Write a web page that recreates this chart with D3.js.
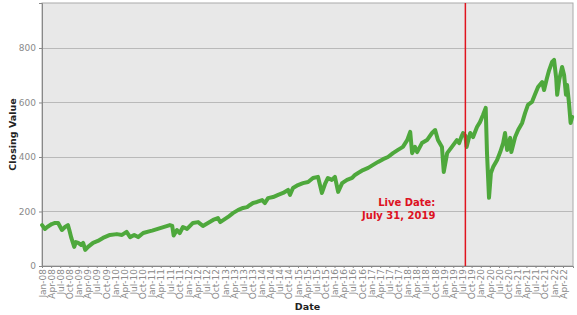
<!DOCTYPE html>
<html>
<head>
<meta charset="utf-8">
<script src="https://cdn.jsdelivr.net/npm/d3@7"></script>
<style>
  html, body { margin: 0; padding: 0; background: #ffffff; }
  svg { display: block; }
</style>
</head>
<body>
<svg id="chart" width="577" height="315"></svg>
<script>
// ---------- data ----------
const dates = [
  "2008-01-02","2008-01-31","2008-02-22","2008-04-08","2008-05-10","2008-06-10","2008-07-18","2008-08-18",
  "2008-09-16","2008-09-30","2008-10-20","2008-11-18","2008-12-05","2008-12-28","2009-01-25","2009-02-15",
  "2009-03-08","2009-04-05","2009-05-25","2009-07-12","2009-09-01","2009-11-10","2010-01-18","2010-03-10",
  "2010-04-25","2010-05-30","2010-07-10","2010-08-18","2010-10-08","2010-12-15","2011-01-05","2011-07-01",
  "2011-07-25","2011-08-08","2011-09-10","2011-10-08","2011-11-09","2011-12-20","2012-02-17","2012-04-08",
  "2012-05-26","2012-07-16","2012-09-05","2012-10-23","2012-11-15","2013-02-02","2013-03-22","2013-05-11",
  "2013-07-01","2013-08-11","2013-09-09","2013-10-09","2013-11-17","2014-01-08","2014-02-05","2014-03-08",
  "2014-04-27","2014-06-17","2014-08-05","2014-09-24","2014-10-13","2014-11-12","2015-01-01","2015-02-20",
  "2015-04-12","2015-05-31","2015-07-20","2015-08-28","2015-09-27","2015-10-27","2015-12-05","2016-01-05",
  "2016-02-06","2016-03-17","2016-05-05","2016-06-25","2016-07-23","2016-08-23","2016-10-12","2016-12-02",
  "2017-01-20","2017-03-11","2017-04-30","2017-06-18","2017-08-07","2017-09-26","2017-11-14","2017-12-27",
  "2018-01-26","2018-02-14","2018-03-15","2018-04-05","2018-05-23","2018-07-13","2018-09-01","2018-10-02",
  "2018-10-30","2018-12-09","2018-12-27","2019-01-30","2019-03-18","2019-05-07","2019-05-30","2019-06-20",
  "2019-07-08","2019-07-31","2019-08-12","2019-09-17","2019-10-16","2019-11-24","2019-12-24","2020-01-23",
  "2020-02-19","2020-03-03","2020-03-23","2020-04-11","2020-05-03","2020-06-12","2020-07-13","2020-08-11",
  "2020-08-30","2020-09-20","2020-10-20","2020-11-01","2020-12-09","2021-01-08","2021-02-17","2021-03-18",
  "2021-04-16","2021-05-26","2021-06-24","2021-07-26","2021-09-05","2021-09-24","2021-10-23","2021-11-14",
  "2021-12-13","2022-01-02","2022-01-23","2022-02-02","2022-02-22","2022-03-23","2022-04-12","2022-05-01",
  "2022-05-12","2022-05-31","2022-06-16","2022-07-01"
];
const closingValues = [
  150,136,143,154,158,158,132,143,
  150,132,103,70,88,85,77,85,
  59,70,85,92,103,114,117,114,
  125,106,114,106,121,128,130,150,
  147,112,132,121,143,136,158,161,
  147,158,169,176,161,180,194,205,
  213,216,224,231,235,242,231,249,
  253,261,268,279,261,286,297,304,
  308,323,327,268,300,323,316,327,
  272,304,316,323,334,341,352,360,
  371,382,392,400,414,426,437,462,
  492,414,437,418,451,462,488,499,
  462,437,345,414,437,462,451,473,
  488,478,437,488,473,510,528,554,
  580,414,250,341,363,389,418,451,
  488,426,470,418,473,499,525,561,
  591,602,628,657,675,646,690,719,
  749,756,690,628,683,730,701,628,
  664,598,525,547
];
const liveDate = "2019-07-31";
const liveLabel = ["Live Date:", "July 31, 2019"];
const yTicks = [0, 200, 400, 600, 800];
const xDomain = ["2008-01-01", "2022-07-10"];
const yDomain = [0, 965];
const xTickStart = "2008-01-01", xTickEnd = "2022-04-01", xTickMonths = 3;
const xTitle = "Date", yTitle = "Closing Value";

// ---------- layout ----------
const parse = d3.timeParse("%Y-%m-%d");
const data = dates.map((d, i) => ({ date: parse(d), value: closingValues[i] }));
const margin = { left: 42, right: 4, top: 3, bottom: 49 };
const W = 577, H = 315;
const svg = d3.select("#chart");

const x = d3.scaleTime().domain(xDomain.map(parse)).range([margin.left, W - margin.right]);
const y = d3.scaleLinear().domain(yDomain).range([H - margin.bottom, margin.top]);

const font = "DejaVu Sans, Verdana, sans-serif";

// plot background
svg.append("rect")
  .attr("x", margin.left).attr("y", margin.top)
  .attr("width", W - margin.right - margin.left)
  .attr("height", H - margin.bottom - margin.top)
  .attr("fill", "#e8e8e8").attr("stroke", "#aaaaaa").attr("stroke-width", 1);

// grid lines
svg.append("g").selectAll("line").data(yTicks.filter(t => t > 0)).join("line")
  .attr("x1", margin.left).attr("x2", W - margin.right)
  .attr("y1", d => Math.round(y(d)) + 0.5).attr("y2", d => Math.round(y(d)) + 0.5)
  .attr("stroke", "#b9b9b9").attr("stroke-width", 1);

// y axis
const yAxis = svg.append("g")
  .attr("transform", `translate(${margin.left},0)`)
  .call(d3.axisLeft(y).tickValues(yTicks).tickSize(3).tickPadding(3).tickFormat(d3.format("d")));
yAxis.select(".domain").attr("stroke", "#888888");
yAxis.selectAll(".tick line").attr("stroke", "#888888");
yAxis.selectAll("text").attr("fill", "#8a8a8a").attr("font-family", font).attr("font-size", 9);

// x axis
const xTicks = d3.timeMonth.every(xTickMonths).range(parse(xTickStart), d3.timeDay.offset(parse(xTickEnd), 1));
const xAxis = svg.append("g")
  .attr("transform", `translate(0,${H - margin.bottom})`)
  .call(d3.axisBottom(x).tickValues(xTicks).tickSize(2).tickFormat(d3.timeFormat("%b-%y")));
xAxis.select(".domain").attr("stroke", "#888888");
xAxis.selectAll(".tick line").attr("stroke", "#888888");
xAxis.selectAll("text")
  .attr("fill", "#8a8a8a").attr("font-family", font).attr("font-size", 9)
  .attr("transform", "rotate(-90)")
  .attr("text-anchor", "end")
  .attr("x", -3).attr("y", 0).attr("dy", "0.35em");

// series line
const line = d3.line().x(d => x(d.date)).y(d => y(d.value));
svg.append("path").datum(data)
  .attr("d", line)
  .attr("fill", "none").attr("stroke", "#4ea83c")
  .attr("stroke-width", 4).attr("stroke-linejoin", "round").attr("stroke-linecap", "round");

// short brownish highlight around live date
const live = parse(liveDate);
const near = data.filter(d => d.date >= d3.timeDay.offset(live, -25) && d.date <= d3.timeDay.offset(live, 14));
svg.append("path").datum(near)
  .attr("d", line)
  .attr("fill", "none").attr("stroke", "#9a6a3a")
  .attr("stroke-width", 2.5).attr("stroke-linejoin", "round").attr("opacity", 0.8);

// live date marker
svg.append("line")
  .attr("x1", x(live)).attr("x2", x(live))
  .attr("y1", margin.top).attr("y2", H - margin.bottom)
  .attr("stroke", "#e0141e").attr("stroke-width", 1.5);

svg.append("g").selectAll("text").data(liveLabel).join("text")
  .attr("x", x(live) - 30)
  .attr("y", (d, i) => y(200) - 5 + i * 13)
  .attr("text-anchor", "end")
  .attr("font-family", font).attr("font-weight", "bold").attr("font-size", 10)
  .attr("fill", "#dd1122")
  .text(d => d);

// axis titles
svg.append("text")
  .attr("x", (margin.left + W - margin.right) / 2).attr("y", 310)
  .attr("text-anchor", "middle")
  .attr("font-family", font).attr("font-weight", "bold").attr("font-size", 9.5)
  .attr("fill", "#222222").text(xTitle);

svg.append("text")
  .attr("transform", `translate(16,${(margin.top + H - margin.bottom) / 2}) rotate(-90)`)
  .attr("text-anchor", "middle")
  .attr("font-family", font).attr("font-weight", "bold").attr("font-size", 9.5)
  .attr("fill", "#222222").text(yTitle);
</script>
</body>
</html>
